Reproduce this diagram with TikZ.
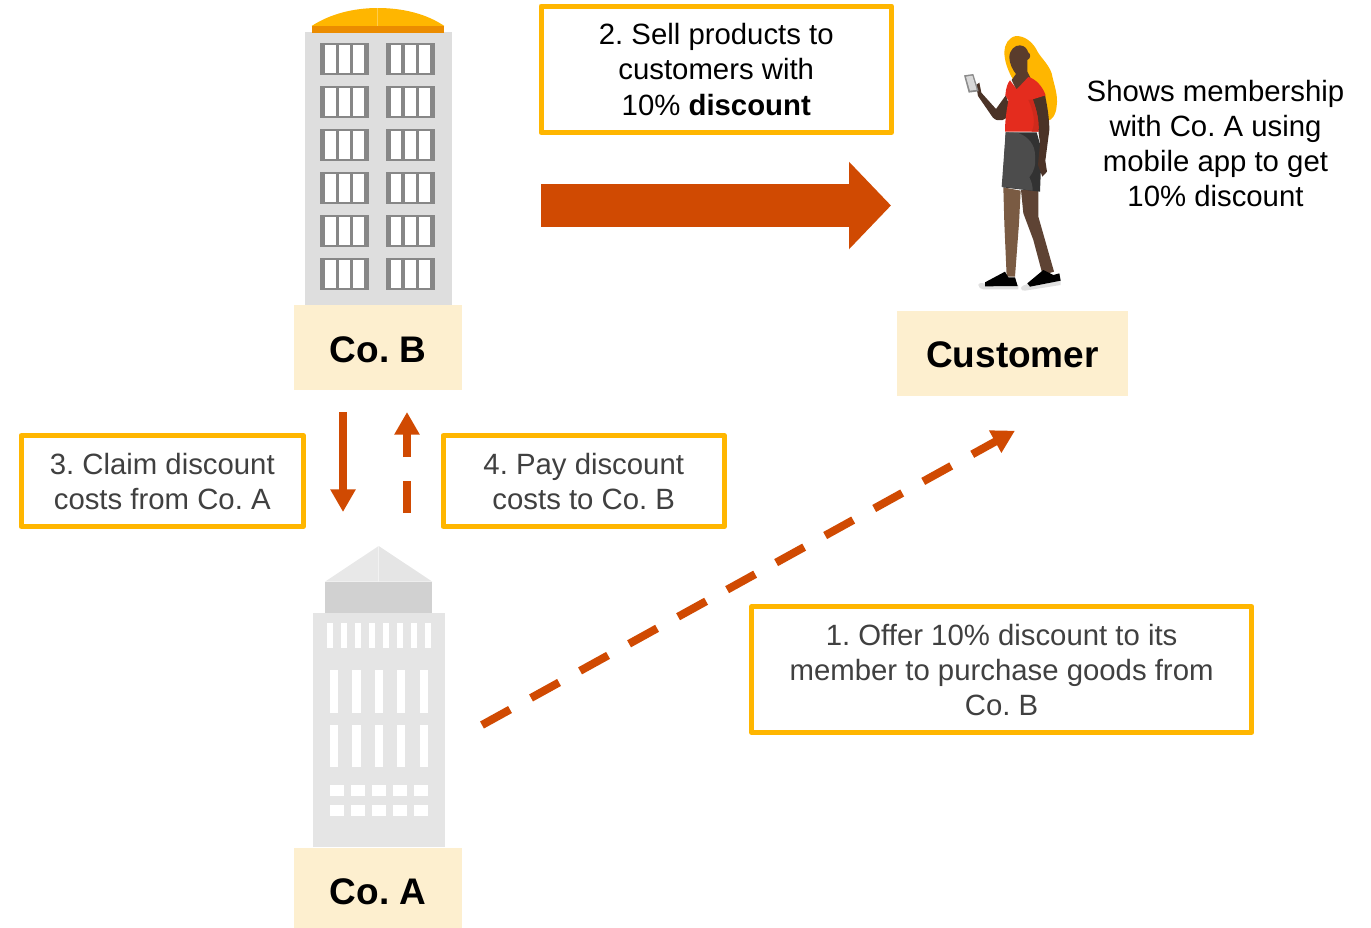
\documentclass[tikz,border=0pt]{standalone}
\usepackage{fontspec}
\setmainfont{Liberation Sans}
\frenchspacing
\usetikzlibrary{arrows.meta}
\definecolor{orng}{HTML}{D04A02}
\definecolor{amber}{HTML}{FFB600}
\definecolor{band}{HTML}{EB8C00}
\definecolor{cream}{HTML}{FDEFCF}
\definecolor{txtgray}{HTML}{404040}
\definecolor{skinHead}{HTML}{5A3C2C}
\definecolor{skinArm}{HTML}{4B3327}
\definecolor{skinBack}{HTML}{5E4334}
\definecolor{skinL}{HTML}{7A5B43}
\definecolor{shirt}{HTML}{E42C1E}
\definecolor{shirtD}{HTML}{CF2A1C}
\definecolor{skirtL}{HTML}{4C4C4C}
\definecolor{skirtD}{HTML}{323232}
\def\u{.75pt}
\tikzset{
  callout/.style={draw=amber,line width=3.75pt,line join=round,fill=white,align=center,inner sep=0pt,
    font=\fontsize{22pt}{26.25pt}\selectfont,text=txtgray},
  namebox/.style={fill=cream,inner sep=0pt,text depth=0pt,font=\fontsize{27.75pt}{32pt}\selectfont\bfseries,text=black},
  plain/.style={align=center,inner sep=0pt,font=\fontsize{22pt}{26.25pt}\selectfont,text=black},
  flow/.style={orng,line width=6pt,-{Triangle[width=18pt,length=17pt]}},
  flowdash/.style={flow,dash pattern=on 24pt off 18pt},
  bigflow/.style={orng,line width=32.25pt,-{Triangle[width=63.75pt,length=31.5pt]}},
  zoomed/.style={x=.25pt,y=-.25pt}
}
\newcommand{\winB}[2]{%
  \fill[black!47] (#1,#2) rectangle ++(49,32);
  \fill[white] (#1+5,#2+2.4) rectangle ++(10.6,27.3);
  \fill[white] (#1+19.3,#2+2.4) rectangle ++(10.7,27.3);
  \fill[white] (#1+33.3,#2+2.4) rectangle ++(10.7,27.3);
}
\begin{document}
\begin{tikzpicture}[x=.75pt,y=-.75pt]
\useasboundingbox (0,0) rectangle (1371,928);
% building B
\fill[black!13] (305,32) rectangle (452,305);
\begin{scope}[shift={(290,0)},zoomed]
  \fill[amber] (65,78) .. controls (120,42) and (190,24) .. (263,24) .. controls (340,24) and (410,42) .. (463,78) -- cycle;
  \fill[amber!70!white] (262,24) rectangle (265,78);
  \fill[band] (65,78) rectangle (463,98);
\end{scope}
\foreach \r in {43,86,129,172,215,258}{\winB{320}{\r}\winB{385.5}{\r}}
% building A
\fill[black!10] (313,613) rectangle (445,847);
\begin{scope}[shift={(300,540)},zoomed]
  \fill[black!18] (75,125) rectangle (397,219);
  \fill[black!9] (236,18) -- (75,125) -- (236,125) -- cycle;
  \fill[black!10] (236,18) -- (397,125) -- (236,125) -- cycle;
  \fill[black!5] (235,18) rectangle (237,125);
  \foreach \x in {81,123,165,207,249,291,333,375}{\fill[white] (\x,250) rectangle ++(19,73);}
  \foreach \x in {90,157,224,291,359}{
    \fill[white] (\x,391) rectangle ++(25,127);
    \fill[white] (\x,555) rectangle ++(25,127);}
  \foreach \x in {91,154,217,280,343}{
    \fill[white] (\x,735) rectangle ++(40,32);
    \fill[white] (\x,795) rectangle ++(40,32);}
\end{scope}
% customer figure
\begin{scope}[shift={(950,30)},zoomed]
  % hair
  \fill[amber] (163,66) .. controls (163,45) and (175,22) .. (198,18)
     .. controls (225,18) and (245,35) .. (258,56)
     .. controls (268,80) and (295,100) .. (305,130)
     .. controls (312,165) and (325,195) .. (320,228)
     .. controls (318,255) and (305,270) .. (295,272) -- (230,200) -- (190,150)
     .. controls (175,125) and (163,95) .. (163,66) -- cycle;
  % head and neck
  \fill[skinHead] (178,82) .. controls (178,60) and (195,45) .. (210,46)
     .. controls (225,47) and (232,58) .. (234,66)
     .. controls (243,72) and (243,85) .. (232,90)
     -- (232,125) -- (242,145) -- (200,182) -- (185,150) -- (198,132)
     .. controls (188,120) and (178,100) .. (178,82) -- cycle;
  % raised arm
  \fill[skinArm] (78,165) -- (88,158) -- (94,188) -- (138,237) -- (168,195) -- (182,245)
     .. controls (170,272) and (145,280) .. (128,262) -- (84,198) -- cycle;
  \fill[black!45] (42,136) -- (70,132) -- (86,184) -- (56,188) -- cycle;
  \fill[black!15] (48,140) -- (67,137) -- (80,179) -- (60,182) -- cycle;
  % legs
  \fill[skinBack] (213,480) -- (265,480) -- (265,560) -- (285,630) -- (312,725) -- (278,735) -- (250,630) -- (220,550) -- cycle;
  \fill[skinL] (160,472) -- (212,482) -- (207,580) -- (195,740) -- (170,740) -- (163,580) -- cycle;
  % skirt
  \fill[skirtD] (167,307) -- (260,307) -- (275,360) -- (270,485) -- (158,472) -- cycle;
  \fill[skirtL] (167,307) -- (205,309) .. controls (235,320) and (255,345) .. (255,375)
     .. controls (258,405) and (252,425) .. (238,442) .. controls (245,455) and (248,468) .. (248,482) -- (155,470) -- cycle;
  % other arm
  \fill[skinArm] (240,205) -- (285,195) .. controls (292,230) and (298,265) .. (298,300) -- (286,392) -- (291,425) -- (277,440) -- (264,405) -- (270,340) -- (262,280) -- cycle;
  % shirt
  \fill[shirt] (180,151) -- (200,178) -- (235,141)
     .. controls (258,147) and (278,170) .. (287,196) -- (248,208) .. controls (260,240) and (268,275) .. (265,305)
     -- (165,305) .. controls (165,270) and (170,240) .. (175,212) -- (166,195)
     .. controls (168,175) and (172,160) .. (180,151) -- cycle;
  \fill[shirtD] (235,210) -- (248,208) .. controls (260,240) and (268,275) .. (265,305) -- (245,305) .. controls (258,280) and (250,240) .. (235,210) -- cycle;
  % shoes
  \fill[black!12] (85,765) .. controls (85,757) and (98,760) .. (105,760) -- (205,765) -- (205,778) -- (100,778) .. controls (92,778) and (85,772) .. (85,765) -- cycle;
  \fill[black!12] (213,775) .. controls (213,767) and (225,765) .. (232,762) -- (332,750) -- (332,765) -- (225,782) .. controls (218,783) and (213,780) .. (213,775) -- cycle;
  \fill[black] (105,757) -- (165,725) -- (175,742) -- (195,742) -- (203,768) -- (105,769) -- cycle;
  \fill[black] (232,760) -- (280,720) -- (310,735) -- (328,730) -- (332,752) -- (240,770) -- cycle;
\end{scope}
% labels
\node[namebox,text height=22.5pt,minimum width=168*\u,minimum height=85*\u] (cob) at (378,347.5) {Co. B};
\node[namebox,text height=21pt,minimum width=231*\u,minimum height=85*\u] (cust) at (1012.5,353.5) {Customer};
\node[namebox,text height=24.8pt,minimum width=168*\u,minimum height=80*\u] (coa) at (378,888) {Co. A};
\node[callout,text=black,minimum width=350.5*\u,minimum height=126.5*\u] (sell) at (716.25,69.25) {\rule{0pt}{16.5pt}2. Sell products to\\customers with\\[.75pt]10\% \textbf{discount}};
\node[callout,minimum width=282.5*\u,minimum height=90.5*\u] (claim) at (162.25,481) {\rule{0pt}{16.75pt}3. Claim discount\\costs from Co. A};
\node[callout,minimum width=281.5*\u,minimum height=90.5*\u] (pay) at (583.75,481) {\rule{0pt}{16.75pt}4. Pay discount\\costs to Co. B};
\node[callout,minimum width=500*\u,minimum height=126*\u] (offer) at (1001.6,669.5) {\rule{0pt}{17pt}1. Offer 10\% discount to its\\member to purchase goods from\\Co. B};
\node[plain] (shows) at (1215.5,144) {Shows membership\\with Co. A using\\mobile app to get\\10\% discount};
% connectors
\coordinate (bigS) at (541,205.5);
\coordinate (bigE) at (891,205.5);
\coordinate (downS) at (343,412);
\coordinate (downE) at (343,512);
\coordinate (upS) at (407,513);
\coordinate (upE) at (407,412);
\coordinate (diagS) at (482,725);
\coordinate (diagE) at (1015,430.7);
\draw[bigflow] (bigS) -- (bigE);
\draw[flow] (downS) -- (downE);
\draw[flowdash] (upS) -- (upE);
\draw[flowdash] (diagS) -- (diagE);
\end{tikzpicture}
\end{document}
